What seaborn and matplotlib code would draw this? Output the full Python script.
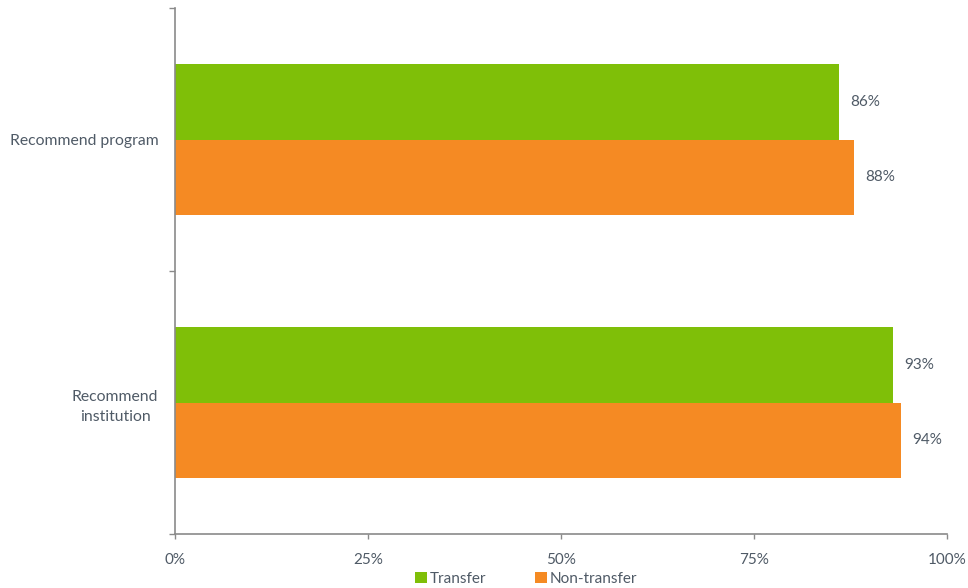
import matplotlib
matplotlib.use("Agg")
import matplotlib.pyplot as plt
import seaborn as sns
import pandas as pd
from matplotlib.ticker import FixedLocator, PercentFormatter

categories = ["Recommend program", "Recommend\ninstitution"]
series = ["Transfer", "Non-transfer"]
transfer = [86, 93]
non_transfer = [88, 94]
xticks = [0, 25, 50, 75, 100]

sns.set_theme(style="white")
plt.rcParams['font.family'] = ['Lato', 'DejaVu Sans']
text_color = "#4f5a66"
axis_color = "#8a8a8a"
colors = {"Transfer": "#7fbf08", "Non-transfer": "#f58a23"}

rows = []
for c, t, n in zip(categories, transfer, non_transfer):
    rows.append({"cat": c, "series": "Transfer", "val": t})
    rows.append({"cat": c, "series": "Non-transfer", "val": n})
df = pd.DataFrame(rows)

fig = plt.figure(figsize=(9.68, 5.88), dpi=100)
ax = fig.add_axes([175/968, 1-534/588, (947-175)/968, (534-8)/588])
sns.barplot(data=df, y="cat", x="val", hue="series", hue_order=series,
            order=categories, palette=colors, orient="h", width=0.575,
            saturation=1, ax=ax, legend=True, linewidth=0, edgecolor="none")

ax.set_xlim(0, 100)
ax.set_ylim(1.5, -0.5)
ax.set_xlabel("")
ax.set_ylabel("")
ax.xaxis.set_major_locator(FixedLocator(xticks))
ax.xaxis.set_major_formatter(PercentFormatter(decimals=0))
ax.tick_params(axis="x", colors=axis_color, labelcolor=text_color, length=3.6,
               width=1, direction="out", pad=10, labelsize=11, bottom=True)
ax.tick_params(axis="y", which="major", length=0, labelcolor=text_color,
               labelsize=11.3, pad=12)
ax.set_yticks([-0.5, 0.5, 1.5], minor=True)
ax.tick_params(axis="y", which="minor", length=4, width=1, color=axis_color, left=True)
for lbl in ax.get_yticklabels():
    lbl.set_horizontalalignment("right")
    lbl.set_multialignment("center")
    lbl.set_linespacing(1.55)

for s in ["top", "right"]:
    ax.spines[s].set_visible(False)
for s in ["left", "bottom"]:
    ax.spines[s].set_color(axis_color)
    ax.spines[s].set_linewidth(1.2)

for cont in ax.containers:
    ax.bar_label(cont, labels=[f"{v:.0f}%" for v in cont.datavalues],
                 padding=8, color=text_color, fontsize=11)

leg = ax.legend(loc="center", bbox_to_anchor=(0.455, -0.085), ncol=2, frameon=False,
                handlelength=0.75, handleheight=0.75, handletextpad=0.2,
                columnspacing=3.2, fontsize=11)
for t in leg.get_texts():
    t.set_color(text_color)

fig.savefig("out.png", dpi=100)
